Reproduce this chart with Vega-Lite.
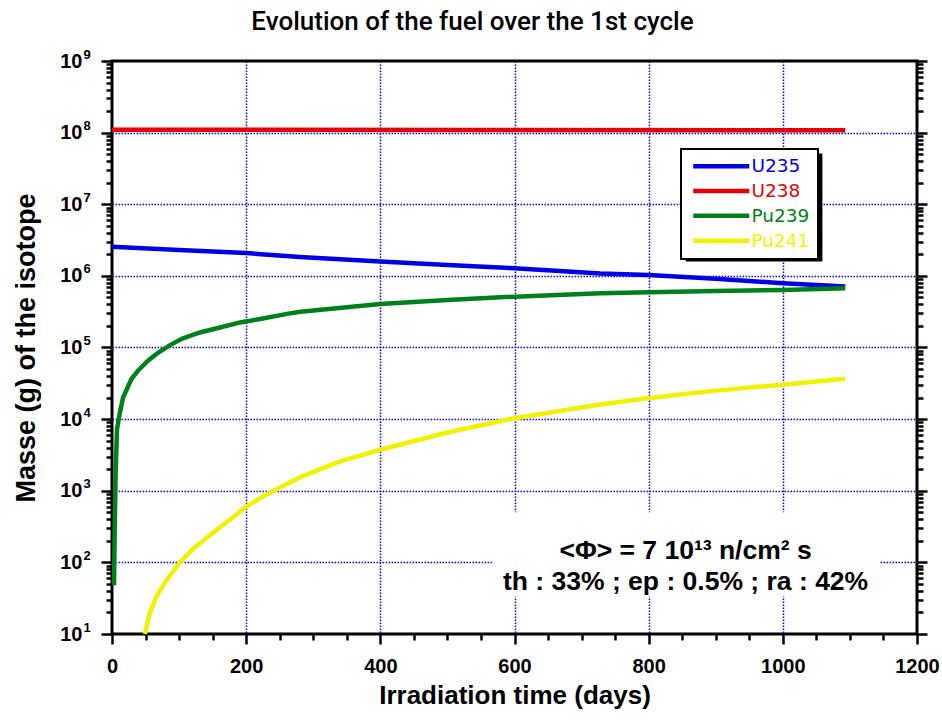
{
  "$schema": "https://vega.github.io/schema/vega-lite/v6.json",
  "width": 805,
  "height": 573,
  "autosize": {"type": "none"},
  "padding": {"left": 112, "top": 61, "right": 25, "bottom": 86},
  "background": "white",
  "config": {
    "view": {"stroke": "black", "strokeWidth": 3},
    "font": "Liberation Sans",
    "axis": {"labelColor": "black", "titleColor": "black", "tickColor": "black"},
    "legend": {"strokeWidth": 2}
  },
  "title": {
    "text": "Evolution of the fuel over the 1st cycle",
    "font": "Roboto",
    "fontSize": 26,
    "fontWeight": 500,
    "color": "black",
    "anchor": "middle",
    "dx": -42,
    "dy": 11,
    "baseline": "alphabetic",
    "offset": 3
  },
  "data": {
    "values": [
      {"isotope": "U235", "t": 0, "m": 2550000},
      {"isotope": "U235", "t": 100, "m": 2300000},
      {"isotope": "U235", "t": 200, "m": 2080000},
      {"isotope": "U235", "t": 280, "m": 1830000},
      {"isotope": "U235", "t": 400, "m": 1590000},
      {"isotope": "U235", "t": 500, "m": 1420000},
      {"isotope": "U235", "t": 600, "m": 1280000},
      {"isotope": "U235", "t": 728, "m": 1080000},
      {"isotope": "U235", "t": 800, "m": 1030000},
      {"isotope": "U235", "t": 900, "m": 910000},
      {"isotope": "U235", "t": 1000, "m": 790000},
      {"isotope": "U235", "t": 1093, "m": 710000},
      {"isotope": "U238", "t": 0, "m": 110000000},
      {"isotope": "U238", "t": 550, "m": 109000000},
      {"isotope": "U238", "t": 1093, "m": 108000000},
      {"isotope": "Pu239", "t": 3, "m": 48},
      {"isotope": "Pu239", "t": 4, "m": 280},
      {"isotope": "Pu239", "t": 5.5, "m": 1950},
      {"isotope": "Pu239", "t": 7.5, "m": 7200},
      {"isotope": "Pu239", "t": 11.5, "m": 12000},
      {"isotope": "Pu239", "t": 16.5, "m": 20000},
      {"isotope": "Pu239", "t": 29, "m": 36300},
      {"isotope": "Pu239", "t": 39, "m": 47900},
      {"isotope": "Pu239", "t": 54, "m": 66100},
      {"isotope": "Pu239", "t": 69, "m": 85100},
      {"isotope": "Pu239", "t": 86, "m": 107000},
      {"isotope": "Pu239", "t": 104, "m": 132000},
      {"isotope": "Pu239", "t": 131, "m": 162000},
      {"isotope": "Pu239", "t": 161, "m": 190000},
      {"isotope": "Pu239", "t": 191, "m": 224000},
      {"isotope": "Pu239", "t": 221, "m": 250000},
      {"isotope": "Pu239", "t": 261, "m": 295000},
      {"isotope": "Pu239", "t": 281, "m": 316000},
      {"isotope": "Pu239", "t": 400, "m": 405000},
      {"isotope": "Pu239", "t": 500, "m": 460000},
      {"isotope": "Pu239", "t": 600, "m": 513000},
      {"isotope": "Pu239", "t": 728, "m": 570000},
      {"isotope": "Pu239", "t": 800, "m": 590000},
      {"isotope": "Pu239", "t": 900, "m": 615000},
      {"isotope": "Pu239", "t": 1000, "m": 636000},
      {"isotope": "Pu239", "t": 1093, "m": 670000},
      {"isotope": "Pu241", "t": 49, "m": 10},
      {"isotope": "Pu241", "t": 56, "m": 19},
      {"isotope": "Pu241", "t": 66, "m": 33},
      {"isotope": "Pu241", "t": 81, "m": 56},
      {"isotope": "Pu241", "t": 101, "m": 100},
      {"isotope": "Pu241", "t": 121, "m": 155},
      {"isotope": "Pu241", "t": 151, "m": 262},
      {"isotope": "Pu241", "t": 181, "m": 430},
      {"isotope": "Pu241", "t": 200, "m": 600},
      {"isotope": "Pu241", "t": 221, "m": 790},
      {"isotope": "Pu241", "t": 251, "m": 1120},
      {"isotope": "Pu241", "t": 281, "m": 1550},
      {"isotope": "Pu241", "t": 340, "m": 2570},
      {"isotope": "Pu241", "t": 400, "m": 3740},
      {"isotope": "Pu241", "t": 500, "m": 6500},
      {"isotope": "Pu241", "t": 600, "m": 10300},
      {"isotope": "Pu241", "t": 728, "m": 16000},
      {"isotope": "Pu241", "t": 800, "m": 19700},
      {"isotope": "Pu241", "t": 900, "m": 25000},
      {"isotope": "Pu241", "t": 1000, "m": 30300},
      {"isotope": "Pu241", "t": 1093, "m": 36700}
    ]
  },
  "layer": [
    {
      "mark": {"type": "point", "opacity": 0},
      "encoding": {
        "x": {"field": "t", "type": "quantitative", "scale": {"domain": [0, 1200], "nice": false, "zero": false},
          "axis": {"orient": "bottom", "values": [200, 400, 600, 800, 1000], "grid": true, "gridColor": "#0000ff", "gridDash": [1.5, 1.5], "gridWidth": 1.5, "gridOpacity": 1, "ticks": false, "labels": false, "domain": false, "title": null}},
        "y": {"field": "m", "type": "quantitative", "scale": {"type": "log", "domain": [10, 1000000000], "nice": false},
          "axis": {"orient": "left", "values": [100, 1000, 10000, 100000, 1000000, 10000000, 100000000], "grid": true, "gridColor": "#0000ff", "gridDash": [1.5, 1.5], "gridWidth": 1.5, "gridOpacity": 1, "ticks": false, "labels": false, "domain": false, "title": null}}
      }
    },
    {
      "data": {"values": [{}]},
      "mark": {"type": "rect", "fill": "white"},
      "encoding": {
        "x": {"datum": 568, "type": "quantitative", "axis": null},
        "x2": {"datum": 1144},
        "y": {"datum": 33.5, "type": "quantitative", "axis": null},
        "y2": {"datum": 499}
      }
    },
    {
      "data": {"values": [{}]},
      "mark": {"type": "rect", "fill": "black"},
      "encoding": {
        "x": {"datum": 855, "type": "quantitative", "axis": null},
        "x2": {"datum": 1059},
        "y": {"datum": 1590000, "type": "quantitative", "axis": null},
        "y2": {"datum": 51000000}
      }
    },
    {
      "mark": {"type": "line", "strokeWidth": 4.5},
      "encoding": {
        "x": {"field": "t", "type": "quantitative", "axis": null},
        "y": {"field": "m", "type": "quantitative", "axis": null},
        "color": {
          "field": "isotope", "type": "nominal",
          "scale": {"domain": ["U235", "U238", "Pu239", "Pu241"], "range": ["#0000e6", "#e60000", "#00801a", "#f2f200"]},
          "legend": {
            "orient": "none", "legendX": 569, "legendY": 88, "title": null,
            "strokeColor": "black", "fillColor": "white",
            "padding": 8, "rowPadding": 5.8,
            "labelFont": "DejaVu Sans", "labelFontSize": 18.5,
            "labelColor": {"expr": "scale('color', datum.value)"},
            "symbolType": "M-1,0H10.2", "symbolSize": 100, "symbolStrokeWidth": 4.5,
            "labelOffset": 44, "labelLimit": 200
          }
        }
      }
    },
    {
      "mark": {"type": "point", "opacity": 0},
      "encoding": {
        "x": {"field": "t", "type": "quantitative",
          "axis": {"orient": "bottom", "values": [0, 200, 400, 600, 800, 1000, 1200], "format": "d", "grid": false, "domain": false, "tickSize": 10, "tickWidth": 2.5, "labelFontSize": 20, "labelFontWeight": "bold", "labelPadding": 12, "labelFlush": false, "labelOverlap": false, "title": "Irradiation time (days)", "titleFontSize": 26, "titleFontWeight": "bold", "titlePadding": 6}},
        "y": {"field": "m", "type": "quantitative",
          "axis": {"orient": "left", "values": [10, 100, 1000, 10000, 100000, 1000000, 10000000, 100000000, 1000000000], "labelExpr": "'10'", "grid": false, "domain": false, "tickSize": 11, "tickWidth": 2.5, "labelFontSize": 20, "labelFontWeight": "bold", "labelPadding": 19, "labelFlush": false, "labelOverlap": false, "labelBaseline": "middle", "title": "Masse (g) of the isotope", "titleFontSize": 27, "titleFontWeight": "bold", "titlePadding": 19}}
      }
    },
    {
      "mark": {"type": "point", "opacity": 0},
      "encoding": {
        "x": {"field": "t", "type": "quantitative",
          "axis": {"orient": "bottom", "values": [50, 100, 150, 250, 300, 350, 450, 500, 550, 650, 700, 750, 850, 900, 950, 1050, 1100, 1150], "grid": false, "domain": false, "labels": false, "tickSize": 6, "tickWidth": 2.5, "title": null}},
        "y": {"field": "m", "type": "quantitative",
          "axis": {"orient": "left", "values": [20, 30, 40, 50, 60, 70, 80, 90, 200, 300, 400, 500, 600, 700, 800, 900, 2000, 3000, 4000, 5000, 6000, 7000, 8000, 9000, 20000, 30000, 40000, 50000, 60000, 70000, 80000, 90000, 200000, 300000, 400000, 500000, 600000, 700000, 800000, 900000, 2000000, 3000000, 4000000, 5000000, 6000000, 7000000, 8000000, 9000000, 20000000, 30000000, 40000000, 50000000, 60000000, 70000000, 80000000, 90000000, 200000000, 300000000, 400000000, 500000000, 600000000, 700000000, 800000000, 900000000], "grid": false, "domain": false, "labels": false, "tickSize": 6, "tickWidth": 2.5, "title": null}}
      }
    },
    {
      "mark": {"type": "point", "opacity": 0},
      "encoding": {
        "x": {"field": "t", "type": "quantitative", "axis": null},
        "y": {"field": "m", "type": "quantitative",
          "axis": {"orient": "right", "values": [10, 100, 1000, 10000, 100000, 1000000, 10000000, 100000000, 1000000000], "grid": false, "domain": false, "labels": false, "tickSize": 10, "tickWidth": 2.5, "title": null}}
      }
    },
    {
      "mark": {"type": "point", "opacity": 0},
      "encoding": {
        "x": {"field": "t", "type": "quantitative", "axis": null},
        "y": {"field": "m", "type": "quantitative",
          "axis": {"orient": "right", "values": [20, 30, 40, 50, 60, 70, 80, 90, 200, 300, 400, 500, 600, 700, 800, 900, 2000, 3000, 4000, 5000, 6000, 7000, 8000, 9000, 20000, 30000, 40000, 50000, 60000, 70000, 80000, 90000, 200000, 300000, 400000, 500000, 600000, 700000, 800000, 900000, 2000000, 3000000, 4000000, 5000000, 6000000, 7000000, 8000000, 9000000, 20000000, 30000000, 40000000, 50000000, 60000000, 70000000, 80000000, 90000000, 200000000, 300000000, 400000000, 500000000, 600000000, 700000000, 800000000, 900000000], "grid": false, "domain": false, "labels": false, "tickSize": 6, "tickWidth": 2.5, "title": null}}
      }
    },
    {
      "mark": {"type": "point", "opacity": 0},
      "encoding": {
        "x": {"field": "t", "type": "quantitative", "axis": null},
        "y": {"field": "m", "type": "quantitative",
          "axis": {"orient": "left", "values": [10, 100, 1000, 10000, 100000, 1000000, 10000000, 100000000, 1000000000], "labelExpr": "'' + round(log(datum.value) / LN10)", "grid": false, "domain": false, "ticks": false, "tickSize": 0, "labelAlign": "left", "labelBaseline": "middle", "labelFontSize": 13, "labelFontWeight": "bold", "labelPadding": 29, "labelOffset": -7, "labelFlush": false, "labelOverlap": false, "title": null}}
      }
    },
    {
      "data": {"values": [{}]},
      "mark": {
        "type": "text",
        "text": ["<Φ> = 7 10¹³ n/cm² s", "th : 33% ; ep : 0.5% ; ra : 42%"],
        "font": "Liberation Sans", "fontSize": 26.5, "fontWeight": "bold",
        "align": "center", "baseline": "alphabetic", "lineHeight": 31, "color": "black"
      },
      "encoding": {
        "x": {"datum": 855, "type": "quantitative", "axis": null},
        "y": {"datum": 112.7, "type": "quantitative", "axis": null}
      }
    }
  ],
  "resolve": {"axis": {"x": "independent", "y": "independent"}}
}
